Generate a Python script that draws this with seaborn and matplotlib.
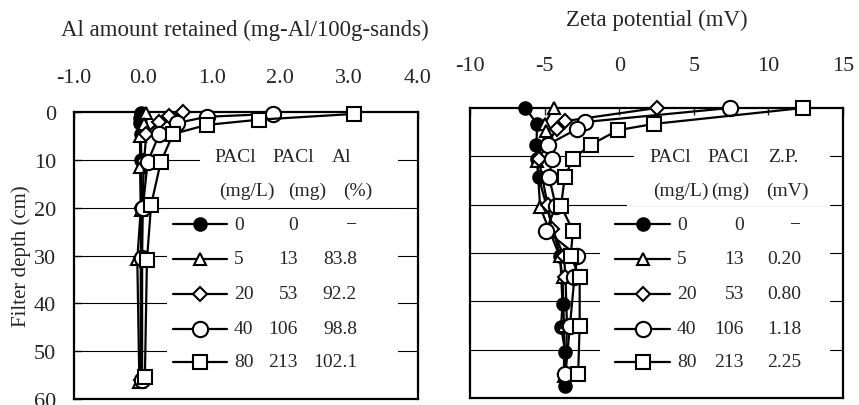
import numpy as np
import pandas as pd
import matplotlib
matplotlib.use("Agg")
import matplotlib.pyplot as plt
import seaborn as sns
from matplotlib.patches import Rectangle

sns.set_style("white")
plt.rcParams['font.family'] = ['Liberation Serif', 'DejaVu Serif']
plt.rcParams['axes.unicode_minus'] = False

# ---------------- data ----------------
doses = ["0", "5", "20", "40", "80"]          # PACl (mg/L)
pacl_mg = ["0", "13", "53", "106", "213"]     # PACl (mg)
al_pct = ["\u2212", "83.8", "92.2", "98.8", "102.1"]
zp_mv = ["\u2212", "0.20", "0.80", "1.18", "2.25"]

# Left panel: Al amount retained (mg-Al/100g-sands) vs depth (cm)
al_depth_0 = [0.3, 1.2, 2.3, 4.5, 10.0, 20.0, 30.5, 56.0]
al_val_0 = [-0.03, -0.04, -0.04, -0.03, -0.02, -0.02, -0.03, -0.03]
al_depth_5 = [0.3, 2.5, 5.0, 11.5, 20.5, 30.8, 56.5]
al_val_5 = [0.05, 0.02, -0.04, -0.04, -0.03, -0.08, -0.05]
al_depth_20 = [0.0, 0.9, 2.1, 4.5, 10.2, 20.0, 30.5, 56.0]
al_val_20 = [0.58, 0.38, 0.23, 0.05, 0.02, -0.01, -0.02, -0.02]
al_depth_40 = [0.4, 1.0, 2.3, 4.6, 10.5, 20.0, 30.5, 56.0]
al_val_40 = [1.89, 0.93, 0.50, 0.24, 0.07, 0.0, -0.01, -0.01]
al_depth_80 = [0.4, 1.6, 2.7, 4.6, 10.5, 19.5, 31.0, 55.5]
al_val_80 = [3.07, 1.69, 0.93, 0.44, 0.26, 0.12, 0.06, 0.03]

# Right panel: Zeta potential (mV) vs depth (cm)
zp_depth_0 = [0.0, 3.3, 7.6, 10.5, 14.3, 30.6, 40.6, 45.4, 50.5, 57.5]
zp_val_0 = [-6.3, -5.5, -5.55, -5.5, -5.4, -3.95, -3.8, -3.9, -3.6, -3.65]
zp_depth_5 = [0.0, 3.3, 4.7, 11.0, 20.5, 30.6, 35.0, 45.0, 55.5]
zp_val_5 = [-4.4, -5.0, -4.9, -5.5, -5.3, -4.0, -3.8, -3.7, -3.7]
zp_depth_20 = [0.0, 2.7, 4.3, 10.5, 20.0, 25.0, 30.6, 35.0, 45.0, 55.0]
zp_val_20 = [2.5, -3.6, -4.2, -5.4, -4.8, -4.5, -3.7, -3.6, -3.5, -3.6]
zp_depth_40 = [0.0, 2.9, 4.3, 7.6, 10.5, 14.3, 20.3, 25.4, 30.6, 35.0, 45.0, 55.0]
zp_val_40 = [7.4, -2.3, -2.8, -4.8, -4.5, -4.7, -4.25, -4.9, -2.8, -3.0, -3.3, -3.6]
zp_depth_80 = [0.0, 3.3, 4.6, 7.6, 10.5, 14.3, 20.3, 25.4, 30.6, 35.0, 45.0, 55.0]
zp_val_80 = [12.3, 2.3, -0.1, -1.9, -3.1, -3.65, -3.9, -3.1, -3.25, -2.65, -2.65, -2.75]

al_series = [(al_val_0, al_depth_0), (al_val_5, al_depth_5), (al_val_20, al_depth_20),
             (al_val_40, al_depth_40), (al_val_80, al_depth_80)]
zp_series = [(zp_val_0, zp_depth_0), (zp_val_5, zp_depth_5), (zp_val_20, zp_depth_20),
             (zp_val_40, zp_depth_40), (zp_val_80, zp_depth_80)]

markers = ["o", "^", "D", "o", "s"]
msizes = [9, 9, 7, 11, 9.5]
mfcs = ["black", "white", "white", "white", "white"]

FS = 14       # legend table
FS_TICK = 16
FS_TITLE = 16.5
FS_YLAB = 15

fig = plt.figure(figsize=(8.59, 4.06), dpi=100)
axL = fig.add_axes([74/859, 6/406, 344/859, 287/406])
axR = fig.add_axes([470/859, 7/406, 373/859, 290/406])


def draw(ax, series):
    for i, (vals, deps) in enumerate(series):
        df = pd.DataFrame({"x": vals, "y": deps})
        sns.lineplot(data=df, x="x", y="y", sort=False, estimator=None, ax=ax,
                     color="black", lw=1.6, marker=markers[i], markersize=msizes[i],
                     markerfacecolor=mfcs[i], markeredgecolor="black",
                     markeredgewidth=1.5, zorder=3 + i, legend=False, clip_on=False)


draw(axL, al_series)
draw(axR, zp_series)

for ax in (axL, axR):
    ax.set_ylim(60, 0)
    ax.set_yticks(np.arange(0, 61, 10))
    ax.xaxis.tick_top()
    ax.set_xlabel("")
    ax.set_ylabel("")
    for y in range(10, 60, 10):
        ax.axhline(y, color="black", lw=0.8, zorder=1)
    for s in ax.spines.values():
        s.set_color("black")
        s.set_linewidth(1.6)
        s.set_zorder(2)
    ax.tick_params(axis="x", direction="in", length=5, width=1, pad=18, labelsize=FS_TICK, top=True, bottom=False)
    ax.tick_params(axis="y", direction="in", length=5, width=1, labelsize=FS_TICK, left=True)

axL.set_xlim(-1, 4)
axL.set_xticks(np.arange(-1, 4.1, 1))
axL.set_xticklabels([f"{v:.1f}" for v in np.arange(-1, 4.1, 1)])
axL.tick_params(axis="y", pad=13)
axL.set_ylabel("Filter depth (cm)", fontsize=FS_YLAB, labelpad=2)

axR.set_xlim(-10, 15)
axR.set_xticks(np.arange(-10, 16, 5))
axR.tick_params(axis="x", pad=24)
axR.set_yticklabels([])
axR.tick_params(axis="y", left=False)

fig.text(245/859, 1 - 30/406, "Al amount retained (mg-Al/100g-sands)", ha="center", va="center", fontsize=FS_TITLE)
fig.text(657/859, 1 - 20/406, "Zeta potential (mV)", ha="center", va="center", fontsize=FS_TITLE)


def px(ax, x, y):
    # figure pixel -> axes fraction
    inv = ax.transAxes.inverted()
    return inv.transform(fig.transFigure.transform((x / 859, 1 - y / 406)))


def table(ax, box, heads, units, col1x, col2r, col3r, col3vals, head_x, unit_x, line_x, rows_y):
    for (x0, y0, x1, y1) in box:
        a = px(ax, x0, y1)
        b = px(ax, x1, y0)
        ax.add_patch(Rectangle(a, b[0] - a[0], b[1] - a[1], transform=ax.transAxes,
                               facecolor="white", edgecolor="none", zorder=10))
    for t, x in zip(heads, head_x):
        p = px(ax, x, 158)
        ax.text(p[0], p[1], t, transform=ax.transAxes, ha="center", va="center", fontsize=FS, zorder=12)
    for t, x in zip(units, unit_x):
        p = px(ax, x, 191)
        ax.text(p[0], p[1], t, transform=ax.transAxes, ha="center", va="center", fontsize=FS, zorder=12)
    for i, y in enumerate(rows_y):
        a = px(ax, line_x[0], y)
        b = px(ax, line_x[1], y)
        ax.plot([a[0], b[0]], [a[1], b[1]], transform=ax.transAxes, color="black", lw=1.6, zorder=12)
        ax.plot([(a[0] + b[0]) / 2], [a[1]], transform=ax.transAxes, marker=markers[i],
                markersize=msizes[i], markerfacecolor=mfcs[i], markeredgecolor="black",
                markeredgewidth=1.5, zorder=13, linestyle="none")
        p = px(ax, col1x, y)
        ax.text(p[0], p[1], doses[i], transform=ax.transAxes, ha="left", va="center", fontsize=FS, zorder=12)
        p = px(ax, col2r, y)
        ax.text(p[0], p[1], pacl_mg[i], transform=ax.transAxes, ha="right", va="center", fontsize=FS, zorder=12)
        p = px(ax, col3r, y)
        ax.text(p[0], p[1], col3vals[i], transform=ax.transAxes, ha="right", va="center", fontsize=FS, zorder=12)


rows_y = [225, 260, 295, 330, 363]
table(axL, [(200, 142, 398, 176), (233, 176, 398, 207), (167, 210, 398, 378)],
      ["PACl", "PACl", "Al"], ["(mg/L)", "(mg)", "(%)"],
      234, 298, 357, al_pct, [235, 293, 342], [247, 307, 358], (173, 227), rows_y)
table(axR, [(634, 142, 830, 176), (627, 176, 830, 207), (600, 210, 830, 378)],
      ["PACl", "PACl", "Z.P."], ["(mg/L)", "(mg)", "(mV)"],
      677, 744, 801, zp_mv, [670, 728, 783], [681, 730, 787], (615, 670), rows_y)

fig.savefig("out.png", dpi=100)
